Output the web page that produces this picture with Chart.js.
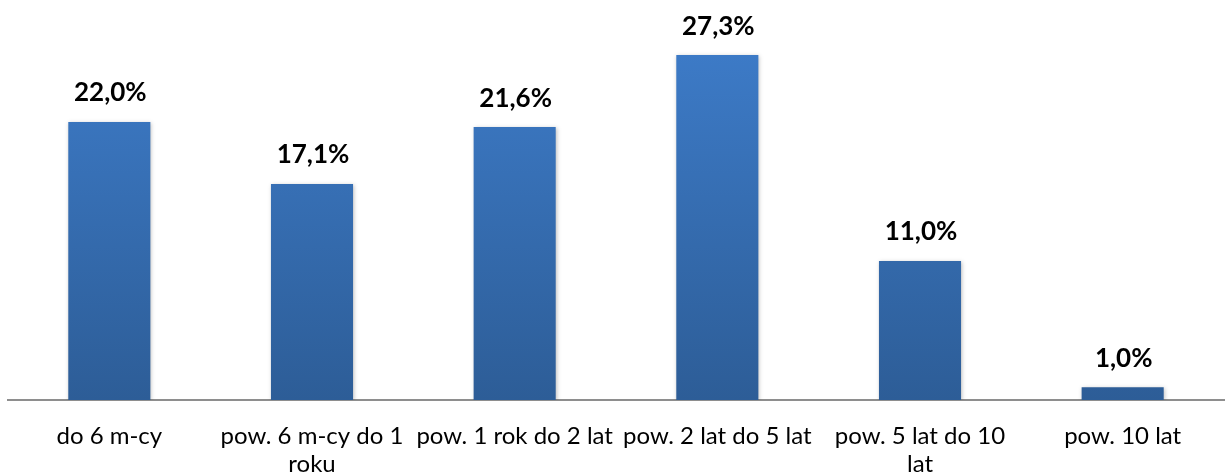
<!DOCTYPE html>
<html><head><meta charset="utf-8">
<script src="https://cdn.jsdelivr.net/npm/chart.js@4.4.0/dist/chart.umd.min.js"></script>
<style>html,body{margin:0;padding:0;background:#fff}#wrap{width:1225px;height:474px}</style>
</head><body><div id="wrap"><canvas id="c" width="1225" height="474"></canvas></div>
<script>
const categories = [["do 6 m-cy"], ["pow. 6 m-cy do 1", "roku"], ["pow. 1 rok do 2 lat"], ["pow. 2 lat do 5 lat"], ["pow. 5 lat do 10", "lat"], ["pow. 10 lat"]];
const values = [22.0, 17.1, 21.6, 27.3, 11.0, 1.0];
const valueLabels = ["22,0%", "17,1%", "21,6%", "27,3%", "11,0%", "1,0%"];

const labelPlugin = {
  id: 'vlabels',
  afterDatasetsDraw(chart) {
    const ctx = chart.ctx;
    const meta = chart.getDatasetMeta(0);
    ctx.save();
    ctx.font = 'bold 26px Lato';
    ctx.fillStyle = '#000';
    ctx.textAlign = 'center';
    ctx.textBaseline = 'middle';
    meta.data.forEach((bar, i) => {
      ctx.fillText(valueLabels[i], bar.x + 1, bar.y - 29);
    });
    ctx.restore();
  }
};
const shadowPlugin = {
  id: 'shadow',
  beforeDatasetsDraw(chart) {
    chart.ctx.save();
    chart.ctx.shadowColor = 'rgba(0,0,0,0.25)';
    chart.ctx.shadowBlur = 4;
    chart.ctx.shadowOffsetX = 1;
    chart.ctx.shadowOffsetY = 1;
  },
  afterDatasetsDraw(chart) { chart.ctx.restore(); }
};

new Chart(document.getElementById('c'), {
  type: 'bar',
  data: {
    labels: categories,
    datasets: [{
      data: values,
      backgroundColor(ctx) {
        const ca = ctx.chart.chartArea;
        if (!ca) return '#3a73bb';
        const g = ctx.chart.ctx.createLinearGradient(0, ca.top, 0, ca.bottom);
        g.addColorStop(0, '#3e7dcb');
        g.addColorStop(1, '#2d5d97');
        return g;
      },
      borderWidth: 0,
      categoryPercentage: 1,
      barPercentage: 0.405
    }]
  },
  options: {
    responsive: false,
    animation: false,
    layout: { padding: { top: 21, left: 8, right: 1, bottom: 0 } },
    plugins: { legend: { display: false }, tooltip: { enabled: false } },
    scales: {
      x: {
        grid: { display: false },
        border: { display: true, color: '#8e8e8e', width: 2 },
        ticks: { color: '#000', font: { family: 'Lato', size: 24, lineHeight: 1.17 }, padding: 14, maxRotation: 0, autoSkip: false },
        afterFit(s) { s.height = 74; }
      },
      y: { display: false, min: 0, max: 30 }
    }
  },
  plugins: [shadowPlugin, labelPlugin]
});
</script></body></html>
